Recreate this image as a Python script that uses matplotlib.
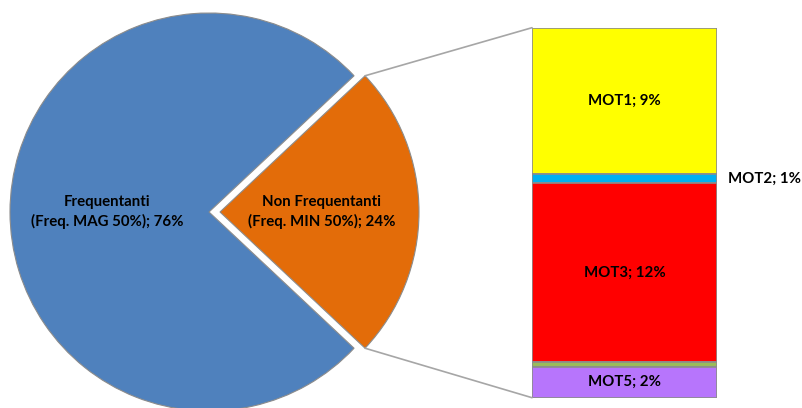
import matplotlib
matplotlib.use("Agg")
import matplotlib.pyplot as plt
from matplotlib.patches import ConnectionPatch
import numpy as np

# --- DATI ---
pie_labels = ["Non Frequentanti\n(Freq. MIN 50%); 24%", "Frequentanti\n(Freq. MAG 50%); 76%"]
pie_values = [24, 76]
pie_colors = ["#e36c09", "#4f81bd"]

mot_names = ["MOT1", "MOT2", "MOT3", "MOT4", "MOT5"]
mot_values = [9.49, 0.61, 11.6, 0.29, 2.01]
mot_labels = ["MOT1; 9%", "MOT2; 1%", "MOT3; 12%", "", "MOT5; 2%"]
mot_colors = ["#ffff00", "#00b0f0", "#ff0000", "#9bbb59", "#b775fc"]

plt.rcParams['font.family'] = ['Lato', 'DejaVu Sans']
FS = 10.8

fig = plt.figure(figsize=(8.03, 4.08), dpi=100)

# --- TORTA (coordenadas en pixeles) ---
ax = fig.add_axes([0, 0, 1, 1])
wedges, texts = ax.pie(pie_values, labels=pie_labels, colors=pie_colors,
                       startangle=-43.2, explode=[11, 0], center=(209, 196), radius=199,
                       labeldistance=0.51, frame=True,
                       wedgeprops=dict(edgecolor='#8c8c8c', linewidth=0.8))
ax.set_xlim(0, 803)
ax.set_ylim(0, 408)
ax.set_aspect('equal')
ax.axis('off')
for t in texts:
    t.set_ha('center')
    t.set_va('center')
    t.set_fontsize(FS)
    t.set_fontweight('bold')
    t.set_linespacing(1.45)

# --- BARRA APILADA ---
ax2 = fig.add_axes([532 / 803, (408 - 397.7) / 408, 185 / 803, 370 / 408])
bottom = 0
for val, lab, col in zip(mot_values, mot_labels, mot_colors):
    ax2.bar(0, val, bottom=bottom, width=1, color=col, edgecolor='#8c8c8c', linewidth=1.2)
    if lab and val > 1:
        ax2.text(0, bottom + val / 2, lab, ha='center', va='center', fontsize=FS, fontweight='bold')
    elif lab:
        ax2.text(0.56, bottom + val / 2, lab, ha='left', va='center', fontsize=FS, fontweight='bold')
    bottom += val
ax2.set_xlim(-0.5, 0.5)
ax2.set_ylim(bottom, 0)
ax2.axis('off')

# --- LINEAS DE CONEXION ---
w = wedges[0]
cx, cy = w.center
for theta, ya in [(w.theta2, 1), (w.theta1, 0)]:
    px = cx + w.r * np.cos(np.radians(theta))
    py = cy + w.r * np.sin(np.radians(theta))
    con = ConnectionPatch(xyA=(px, py), coordsA=ax.transData,
                          xyB=(0, ya), coordsB=ax2.transAxes,
                          color='#a6a6a6', linewidth=1.2)
    fig.add_artist(con)

fig.savefig("out.png", dpi=100)
